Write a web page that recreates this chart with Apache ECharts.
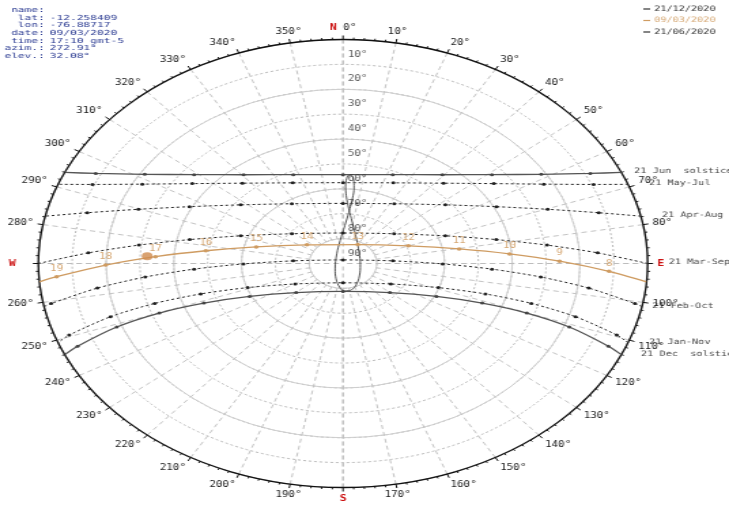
<!DOCTYPE html>
<html><head><meta charset="utf-8">
<script src="https://cdn.jsdelivr.net/npm/echarts@6/dist/echarts.min.js"></script>
<style>
html,body{margin:0;padding:0;background:#fff;overflow:hidden;}
#wrap{width:729px;height:509px;overflow:hidden;position:relative;background:#fff;}
#chart{width:536px;height:509px;transform:scaleX(1.36007);transform-origin:0 0;}
</style></head><body>
<div id="wrap"><div id="chart"></div></div>
<script>
// ---- data: [azimuth°, elevation°], sunrise -> hourly points -> sunset ----
const ELEV_LABELS = [10, 20, 30, 40, 50, 60, 70, 80, 90];

const JUN_21 = [[66.0,0],[63.64,8.49],[58.54,21.34],[50.94,33.34],[39.47,43.80],[22.38,51.41],[0,54.31],
  [337.62,51.41],[320.53,43.80],[309.06,33.34],[301.46,21.34],[296.36,8.49],[294.0,0]];
const MAY_JUL_21 = [[69.3,0],[66.78,9.44],[61.74,22.66],[54.22,35.11],[42.63,46.14],[24.63,54.35],[0,57.53],
  [335.37,54.35],[317.37,46.14],[305.78,35.11],[298.26,22.66],[293.22,9.44],[290.7,0]];
const APR_AUG_21 = [[77.8,0],[74.89,11.75],[70.19,25.74],[63.28,39.23],[52.07,51.66],[32.21,61.62],[0,65.85],
  [327.79,61.62],[307.93,51.66],[296.72,39.23],[289.81,25.74],[285.11,11.75],[282.2,0]];
const MAR_SEP_21 = [[90,0],[86.75,14.65],[83.01,29.25],[78.02,43.71],[69.81,57.81],[51.62,70.74],[0,77.75],
  [308.38,70.74],[290.19,57.81],[281.98,43.71],[276.99,29.25],[273.25,14.65],[270,0]];
const FEB_OCT_21 = [[101.1,0],[100.56,2.28],[97.75,16.75],[95.30,31.31],[92.94,45.93],[90.30,60.58],[85.90,75.23],[0,88.55],
  [274.10,75.23],[269.70,60.58],[267.06,45.93],[264.70,31.31],[262.25,16.75],[259.44,2.28],[258.9,0]];
const JAN_NOV_21 = [[110.7,0],[109.57,4.16],[107.29,18.07],[106.07,32.12],[106.21,46.21],[108.97,60.21],[120.21,73.66],[180,82.25],
  [239.79,73.66],[251.03,60.21],[253.79,46.21],[253.93,32.12],[252.71,18.07],[250.43,4.16],[249.3,0]];
const DEC_21 = [[114.0,0],[112.96,4.84],[110.89,18.45],[110.13,32.19],[111.15,45.92],[115.63,59.41],[130.19,71.89],[180,78.79],
  [229.81,71.89],[244.37,59.41],[248.85,45.92],[249.87,32.19],[249.11,18.45],[247.04,4.84],[246.0,0]];

const HOURS_0903 = [8, 9, 10, 11, 12, 13, 14, 15, 16, 17, 18, 19];
const POS_0903 = [[92.30,11.35],[89.16,26.01],[85.51,40.65],[80.30,55.20],[69.87,69.40],[29.78,81.23],
  [305.14,76.98],[284.59,63.51],[277.21,49.13],[272.85,34.53],[269.49,19.87],[266.41,5.23]];
const RISE_0903 = [94.71, 0];
const SET_0903 = [265.29, 0];
const NOW_0903 = [272.91, 32.08];

const ANALEMMA = [[167.82,78.97],[157.57,80.28],[135.94,83.03],[94.43,84.87],[47.04,83.51],[22.02,79.39],
  [9.41,73.23],[4.44,67.97],[2.02,62.75],[1.39,58.92],[1.87,55.73],[2.82,54.41],[4.10,54.56],[5.26,56.0],
  [6.11,59.47],[6.11,63.5],[4.80,69.38],[2.03,74.73],[354.80,80.72],[334.61,85.71],[227.33,86.82],
  [198.49,83.51],[185.94,80.40],[177.80,78.95]];

const INFO_KEYS = ['name:', 'lat:', 'lon:', 'date:', 'time:', 'azim.:', 'elev.:'];
const INFO_VALS = ['', '-12.258409', '-76.88717', '09/03/2020', '17:10 gmt-5', '272.91°', '32.08°'];
const LEGEND_NAMES = ['21/12/2020', '09/03/2020', '21/06/2020'];

// ---- chart ----
const FONT = 'DejaVu Sans Mono';
const ORANGE = '#cf9c62';
const DARK = '#555';
const CENTER = [252.2, 263.5];
const R = 224;
const R80 = R / 9; // radius of the 80° elevation circle

const PATHS = [
  {name: '21/06/2020', label: '21 Jun  solstice', pts: JUN_21, solid: true, dist: 9},
  {name: 'May-Jul', label: '21 May-Jul', pts: MAY_JUL_21, solid: false, dist: 15},
  {name: 'Apr-Aug', label: '21 Apr-Aug', pts: APR_AUG_21, solid: false, dist: 15},
  {name: 'Mar-Sep', label: '21 Mar-Sep', pts: MAR_SEP_21, solid: false, dist: 15},
  {name: 'Feb-Oct', label: '21 Feb-Oct', pts: FEB_OCT_21, solid: false, dist: 7},
  {name: 'Jan-Nov', label: '21 Jan-Nov', pts: JAN_NOV_21, solid: false, dist: 15},
  {name: '21/12/2020', label: '21 Dec  solstice', pts: DEC_21, solid: true, dist: 14}
];

const pol = p => [p[1], p[0]]; // [az, elev] -> [radius value (elev), angle value (az)]

const series = [];

PATHS.forEach(P => {
  const n = P.pts.length;
  series.push({
    type: 'line', name: P.name, coordinateSystem: 'polar', polarIndex: 0,
    smooth: 0.25, silent: true, z: 3,
    symbol: 'circle', symbolSize: 3,
    lineStyle: P.solid ? {color: DARK, width: 1.3} : {color: '#222', width: 1, type: [2, 2]},
    itemStyle: {color: P.solid ? '#444' : '#222'},
    data: P.pts.map((p, i) => ({value: pol(p), symbol: (i === 0 || i === n - 1) ? 'none' : 'circle'}))
  });
});

// analemma
series.push({
  type: 'line', name: 'analemma', coordinateSystem: 'polar', polarIndex: 0,
  smooth: 0.4, showSymbol: false, silent: true, z: 3,
  lineStyle: {color: '#555', width: 1},
  data: ANALEMMA.concat([ANALEMMA[0]]).map(pol)
});

// current date path
const od = [{value: pol(RISE_0903), symbol: 'none'}];
POS_0903.forEach((p, i) => od.push({
  value: pol(p), symbol: 'circle',
  label: {show: true, position: 'top', distance: 2, formatter: String(HOURS_0903[i]),
    color: '#d6a874', fontSize: 8, fontFamily: FONT}
}));
od.push({value: pol(SET_0903), symbol: 'none'});
series.push({
  type: 'line', name: '09/03/2020', coordinateSystem: 'polar', polarIndex: 0,
  smooth: 0.25, silent: true, z: 4, symbolSize: 3.5,
  lineStyle: {color: ORANGE, width: 1.3}, itemStyle: {color: ORANGE},
  data: od
});
series.push({
  type: 'scatter', name: 'now', coordinateSystem: 'polar', polarIndex: 0, z: 5, silent: true,
  symbolSize: 8, itemStyle: {color: '#d08b4e'}, data: [pol(NOW_0903)]
});

// path names at sunrise end
series.push({
  type: 'scatter', name: 'pathlabels', coordinateSystem: 'polar', polarIndex: 0, z: 5, silent: true,
  symbolSize: 1, itemStyle: {color: 'rgba(0,0,0,0)'},
  data: PATHS.map(P => ({
    value: pol(P.pts[0]), name: P.label,
    label: {show: true, position: 'right', distance: P.dist, offset: [0, -1], formatter: '{b}',
      color: '#111', fontSize: 7.5, fontFamily: FONT}
  }))
});

// elevation labels along the north axis
series.push({
  type: 'scatter', name: 'elevlabels', coordinateSystem: 'polar', polarIndex: 0, z: 5, silent: true,
  symbolSize: 1, itemStyle: {color: 'rgba(0,0,0,0)'},
  data: ELEV_LABELS.map(e => ({
    value: [e - 4, 0],
    label: {show: true, position: 'right', distance: 3, formatter: e + '°',
      color: '#333', fontSize: 8, fontFamily: FONT}
  }))
});

const graphic = [];
INFO_KEYS.forEach((k, i) => {
  const y = 10 + i * 7.7;
  graphic.push({type: 'text', x: 33, y, scaleX: 1.18, silent: true,
    style: {text: k, fill: '#2b3b92', font: '7px "DejaVu Sans Mono"', align: 'right', verticalAlign: 'middle'}});
  if (INFO_VALS[i]) graphic.push({type: 'text', x: 36.5, y, scaleX: 1.18, silent: true,
    style: {text: INFO_VALS[i], fill: '#2b3b92', font: '7px "DejaVu Sans Mono"', align: 'left', verticalAlign: 'middle'}});
});

const hidden = {axisLine: {show: false}, axisTick: {show: false}, axisLabel: {show: false}};

const chart = echarts.init(document.getElementById('chart'), null, {renderer: 'canvas'});
chart.setOption({
  animation: false,
  backgroundColor: '#fff',
  textStyle: {fontFamily: FONT},
  legend: {
    orient: 'vertical', left: 473, top: 5, itemGap: 3.5, itemWidth: 5, itemHeight: 1.2,
    icon: 'rect', padding: 0, selectedMode: false,
    textStyle: {fontSize: 7.5, fontFamily: FONT, color: '#333', padding: [0, 0, 0, -2]},
    data: [
      {name: LEGEND_NAMES[0], textStyle: {color: '#333'}, itemStyle: {color: '#333'}},
      {name: LEGEND_NAMES[1], textStyle: {color: '#d6a874'}, itemStyle: {color: ORANGE}},
      {name: LEGEND_NAMES[2], textStyle: {color: '#333'}, itemStyle: {color: '#333'}}
    ]
  },
  polar: [
    {center: CENTER, radius: [0, R]},
    {center: CENTER, radius: [0, R]},
    {center: CENTER, radius: [R80, R]}
  ],
  angleAxis: [
    {
      polarIndex: 0, type: 'value', min: 0, max: 360, interval: 10, startAngle: 90, clockwise: true,
      axisLine: {show: false},
      axisTick: {show: true, length: 4, lineStyle: {color: '#111', width: 1}},
      minorTick: {show: true, splitNumber: 5, length: 2, lineStyle: {color: '#222', width: 1}},
      splitLine: {show: false},
      axisLabel: {
        show: true, margin: 7, fontSize: 8, color: '#222', fontFamily: FONT,
        formatter: v => v === 0 ? '{n|N} 0°' : v === 90 ? '{n|E}' : v === 180 ? '{n|S}' :
          v === 270 ? '{n|W}  ' : v === 360 ? '' : v + '°',
        rich: {n: {color: '#cc1111', fontWeight: 'bold', fontSize: 8.5, fontFamily: FONT}}
      }
    },
    {
      polarIndex: 1, type: 'value', min: 0, max: 360, interval: 90, startAngle: 90, clockwise: true, z: 1,
      axisLine: {show: true, lineStyle: {color: '#111', width: 1.3}},
      axisTick: {show: false}, axisLabel: {show: false},
      splitLine: {show: true, lineStyle: {color: '#bdbdbd', type: [4, 3], width: 1}}
    },
    {
      polarIndex: 2, type: 'value', min: 0, max: 360, interval: 10, startAngle: 90, clockwise: true,
      ...hidden,
      splitLine: {show: true, lineStyle: {color: '#c4c4c4', type: [4, 3], width: 1}}
    }
  ],
  radiusAxis: [
    {
      polarIndex: 0, type: 'value', min: 0, max: 90, interval: 10, inverse: true, ...hidden,
      splitLine: {show: true, lineStyle: {color: '#b9b9b9', type: [2, 2], width: 1}}
    },
    {
      polarIndex: 1, type: 'value', min: 0, max: 90, interval: 20, inverse: true, ...hidden,
      splitLine: {show: true, lineStyle: {color: '#cfcfcf', type: 'solid', width: 1}}
    },
    {
      polarIndex: 2, type: 'value', min: 0, max: 80, ...hidden, splitLine: {show: false}
    }
  ],
  graphic,
  series
});
</script></body></html>
